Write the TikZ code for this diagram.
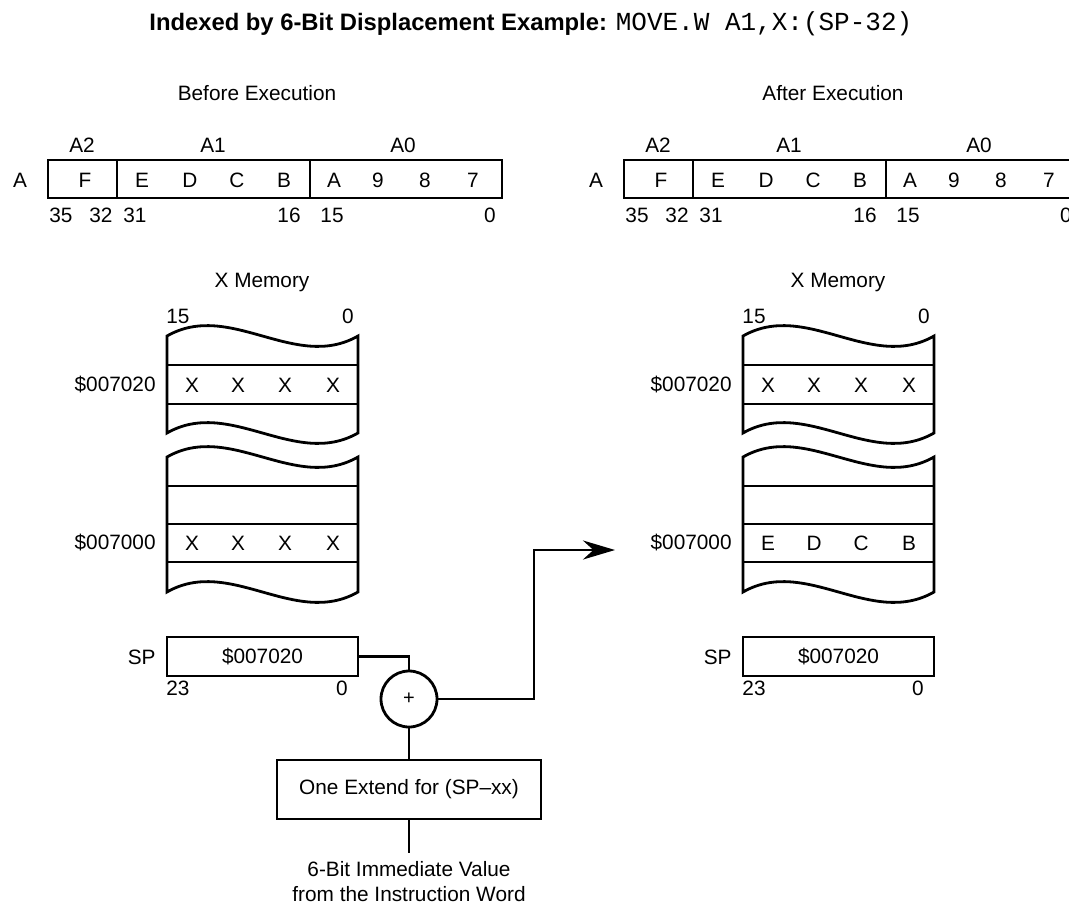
\documentclass[tikz,border=0pt]{standalone}
\usepackage{fontspec}
\setmainfont{Liberation Sans}
\setmonofont{Liberation Mono}
\usepackage{tikz}
\usetikzlibrary{arrows.meta, positioning, calc}

\begin{document}
\begin{tikzpicture}[x=0.5pt, y=-0.5pt, line width=1.4pt,
    txt/.style={font=\fontsize{10.4}{12.5}\selectfont, inner sep=0pt}]
  \clip (0,0) rectangle (1069,905);
  \node[anchor=base west, inner sep=0pt] (title) at (148,30) {\fontsize{11.9}{14}\selectfont\bfseries Indexed by 6-Bit Displacement Example: \mdseries\ttfamily\fontsize{13}{14}\selectfont MOVE.W A1,X:(SP-32)};
  \foreach \dx/\side/\head/\ca/\cb/\cc/\cd in {0/b/Before/X/X/X/X, 576/a/After/E/D/C/B} {
    \begin{scope}[shift={(\dx,0)}]
      \node[txt] (head-\side) at (257,93) {\head\ Execution};
      \draw (48,160) rectangle (502,198);
      \draw (117,160) -- (117,198) (310,160) -- (310,198);
      \node[txt] (acc-\side) at (20,180) {A};
      \foreach \n/\t in {82/A2, 213/A1, 403/A0}
        \node[txt] (\t-\side) at (\n,145) {\t};
      \foreach \n/\t in {85/F, 142/E, 190/D, 237/C, 284/B, 334/A, 378/9, 425/8, 473/7}
        \node[txt] (d\t-\side) at (\n,180) {\t};
      \foreach \n/\t in {61/35, 101/32, 135/31, 289/16, 332/15, 490/0}
        \node[txt] (bit\t-\side) at (\n,215) {\t};
      \node[txt] (xmem-\side) at (262,282) {X Memory};
      \node[txt] (m15-\side) at (178,316) {15};
      \node[txt] (m0-\side) at (348,316) {0};
      \draw (167,433) -- (167,336) .. controls (230,300) and (295,372) .. (358,336) -- (358,433) .. controls (295,469) and (230,397) .. (167,433) -- cycle;
      \draw (167,365) -- (358,365) (167,404) -- (358,404);
      \draw (167,592) -- (167,457) .. controls (230,421) and (295,493) .. (358,457) -- (358,592) .. controls (295,628) and (230,556) .. (167,592) -- cycle;
      \draw (167,486) -- (358,486) (167,524) -- (358,524) (167,562) -- (358,562);
      \node[txt, anchor=east] (a20-\side) at (157,385) {\$007020};
      \node[txt, anchor=east] (a00-\side) at (157,543) {\$007000};
      \foreach \n [count=\i] in {192, 238, 285, 333}
        \node[txt] (hi\i-\side) at (\n,385) {X};
      \foreach \n/\t [count=\i] in {192/\ca, 238/\cb, 285/\cc, 333/\cd}
        \node[txt] (lo\i-\side) at (\n,543) {\t};
      \node[draw, txt, minimum width=95.5pt, minimum height=19.5pt] (sp-\side) at (262.5,656.5) {\$007020};
      \node[txt, anchor=east] (splbl-\side) at (157,657) {SP};
      \node[txt] (sp23-\side) at (178,688) {23};
      \node[txt] (sp0-\side) at (342,688) {0};
    \end{scope}
  }
  \node[draw, circle, minimum size=28pt, inner sep=0pt, font=\fontsize{10}{11}\selectfont] (add) at (409,699) {+};
  \draw (sp-b.east) -| (add.north);
  \coordinate (bend) at (534,550);
  \coordinate (tip) at (615,550);
  \draw[-{Stealth[length=16pt, width=9.5pt]}] (add.east) -| (bend) -- (tip);
  \node[draw, txt, minimum width=132pt, minimum height=29.5pt] (ext) at (409,789.5) {One Extend for (SP--xx)};
  \draw (add.south) -- (ext.north);
  \node[txt, align=center, anchor=north, inner sep=3.5pt] (imm) at (409,853) {6-Bit Immediate Value\\from the Instruction Word};
  \draw (ext.south) -- (imm.north);
\end{tikzpicture}
\end{document}
